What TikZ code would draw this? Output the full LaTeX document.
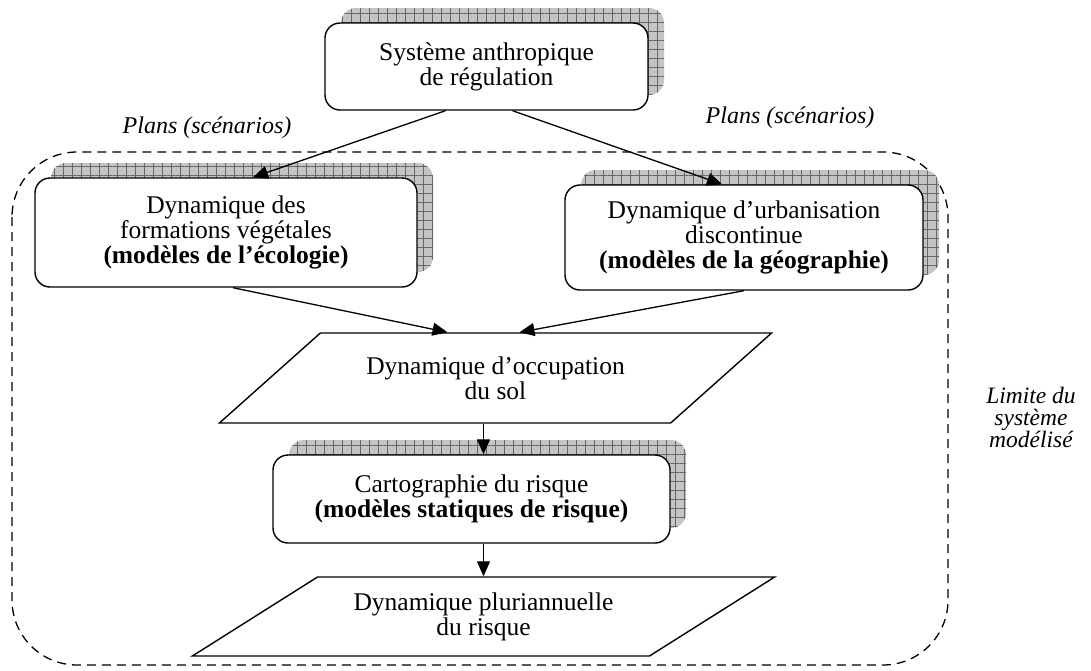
\documentclass[tikz,border=0pt]{standalone}
\usepackage{fontspec}
\setmainfont{Liberation Serif}
\usetikzlibrary{arrows.meta,shapes.geometric,shadows,patterns.meta}
\definecolor{hgray}{RGB}{196,196,196}

\begin{document}
\begin{tikzpicture}[x=1pt,y=-1pt,>={Triangle[length=15pt,width=13pt]},
  every node/.style={font=\fontsize{25.5}{25}\selectfont},
  ombre/.style={general shadow={shadow xshift=16pt,shadow yshift=15pt,fill=hgray},
    general shadow={shadow xshift=16pt,shadow yshift=15pt,pattern={Hatch[angle=0,distance=9pt,line width=0.5pt]},pattern color=gray!80!black}},
  modele/.style={draw,line width=1.4pt,rounded corners=15pt,fill=white,align=center,ombre},
  donnee/.style={draw,line width=1.4pt,trapezium,trapezium stretches=true,align=center},
  plan/.style={font=\fontsize{24}{24}\selectfont\itshape},
  fleche/.style={->,line width=1.3pt}]
	  \useasboundingbox (0,0) rectangle (1091,670);
	  \draw[line width=1.3pt,dash pattern=on 9pt off 6pt,rounded corners=65pt] (12,152) rectangle (948,665);
	  \node[modele,minimum width=323pt,minimum height=87pt] (systeme) at (486.5,66.5) {Système anthropique\\de régulation};
	  \node[modele,minimum width=382pt,minimum height=109pt] (ecologie) at (226,232.5) {Dynamique des\\formations végétales\\\textbf{(modèles de l’écologie)}};
	  \node[modele,minimum width=358pt,minimum height=105pt] (geographie) at (744,237.5) {Dynamique d’urbanisation\\discontinue\\\textbf{(modèles de la géographie)}};
	  \node[donnee,trapezium left angle=33,trapezium right angle=147,minimum width=555pt,minimum height=90pt] (occupation) at (495.5,378) {Dynamique d’occupation\\du sol};
	  \node[modele,minimum width=397pt,minimum height=88pt] (risque) at (471.5,499) {Cartographie du risque\\\textbf{(modèles statiques de risque)}};
	  \node[donnee,trapezium left angle=28.6,trapezium right angle=151.4,minimum width=583pt,minimum height=79pt] (pluri) at (483.5,616.5) {Dynamique pluriannuelle\\du risque};
	  % etiquettes
	  \node[plan] (planG) at (207,128) {Plans (scénarios)};
	  \node[plan] (planD) at (790,118) {Plans (scénarios)};
	  \node[plan,align=center,font=\fontsize{23.5}{22}\selectfont\itshape] (limite) at (1031,417) {Limite du\\système\\modélisé};
	  % fleches
	  \draw[fleche] ([xshift=-41pt]systeme.south) -- ([xshift=27pt]ecologie.north);
	  \draw[fleche] ([xshift=26pt]systeme.south) -- ([xshift=-22pt]geographie.north);
	  \draw[fleche] ([xshift=7pt]ecologie.south) -- ([xshift=-48pt]occupation.center |- occupation.north);
	  \draw[fleche] (geographie.south) -- ([xshift=24pt]occupation.center |- occupation.north);
	  \draw[fleche] ([xshift=-12pt]occupation.center |- occupation.south) -- ([xshift=-12pt]occupation.center |- risque.north);
	  \draw[fleche] ([xshift=-12pt]occupation.center |- risque.south) -- ([xshift=-12pt]occupation.center |- pluri.north);
\end{tikzpicture}
\end{document}
